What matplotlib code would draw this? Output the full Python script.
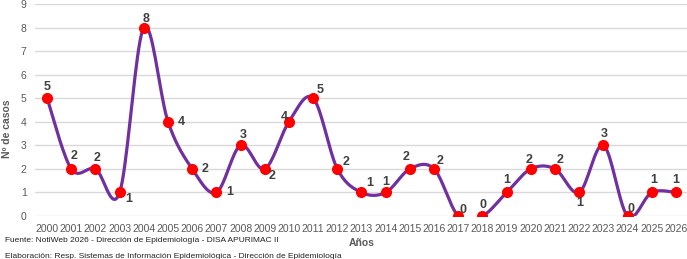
import matplotlib
matplotlib.use("Agg")
import matplotlib.pyplot as plt
import numpy as np

plt.rcParams['font.family'] = ['Liberation Sans', 'DejaVu Sans']

years = list(range(2000, 2027))
casos = [5, 2, 2, 1, 8, 4, 2, 1, 3, 2, 4, 5, 2, 1, 1, 2, 2, 0, 0, 1, 2, 2, 1, 3, 0, 1, 1]
# label offsets in pixels (dx, dy)
label_off = [(0, 11), (3, 13), (2, 11), (9, -7), (2, 9), (13, 0), (13, 0), (13, 0),
             (3, 10), (7, -7), (-5, 5), (7, 8), (9, 7), (8, 9), (0, 10), (-4, 12),
             (6, 8), (5, 6), (1, 11), (0, 12), (-2, 9), (5, 9), (1, -11), (1, 11),
             (3, 7), (2, 12), (0, 12)]


def smooth(x, y, n=20):
    # Catmull-Rom style smoothing like spreadsheet "smoothed line"
    x = np.asarray(x, float)
    y = np.asarray(y, float)
    px = np.concatenate([[x[0]], x, [x[-1]]])
    py = np.concatenate([[y[0]], y, [y[-1]]])
    xs, ys = [], []
    t = np.linspace(0, 1, n)
    for i in range(1, len(px) - 2):
        p0, p1, p2, p3 = (np.array([px[j], py[j]]) for j in range(i - 1, i + 3))
        c1 = p1 + (p2 - p0) / 6
        c2 = p2 - (p3 - p1) / 6
        for tt in t:
            b = ((1 - tt) ** 3) * p1 + 3 * ((1 - tt) ** 2) * tt * c1 + 3 * (1 - tt) * tt ** 2 * c2 + tt ** 3 * p2
            xs.append(b[0])
            ys.append(b[1])
    return xs, ys


fig = plt.figure(figsize=(6.87, 2.59), dpi=100)
ax = fig.add_axes([35 / 687, 43 / 259, 653 / 687, 212 / 259])

sx, sy = smooth(years, casos)
ax.plot(sx, sy, color='#7030A0', lw=2.3, zorder=2, solid_capstyle='round')
ax.plot(years, casos, 'o', color='#FF0000', ms=7, zorder=3)

for x, v, (dx, dy) in zip(years, casos, label_off):
    ax.annotate(str(v), (x, v), xytext=(dx, dy), textcoords='offset pixels',
                ha='center', va='center', fontsize=9, fontweight='bold', color='#404040')

ax.set_xlim(1999.5, 2026.5)
ax.set_ylim(0, 9)
ax.set_yticks(range(10))
ax.set_xticks(years)
ax.set_xticklabels([str(y) for y in years])
ax.grid(axis='y', color='#D9D9D9', lw=1)
ax.set_axisbelow(True)
for s in ax.spines.values():
    s.set_visible(False)
ax.tick_params(length=0, labelsize=7.5, colors='#595959', pad=6)
ax.tick_params(axis='y', pad=6)
ax.set_ylabel('Nº de casos', fontsize=7.5, color='#595959', fontweight='bold')
ax.yaxis.set_label_coords(-23 / 653, 0.41)
ax.set_xlabel('Años', fontsize=7.5, color='#595959', fontweight='bold', labelpad=3)

fig.text(5 / 687, 1 - 241 / 259, 'Fuente: NotiWeb 2026 - Dirección de Epidemiología - DISA APURIMAC II',
         fontsize=6, color='#222222', va='center')
fig.text(5 / 687, 1 - 256 / 259, 'Elaboración: Resp. Sistemas de Información Epidemiológica - Dirección de Epidemiología',
         fontsize=6, color='#222222', va='center')

fig.savefig('out.png', dpi=100)
